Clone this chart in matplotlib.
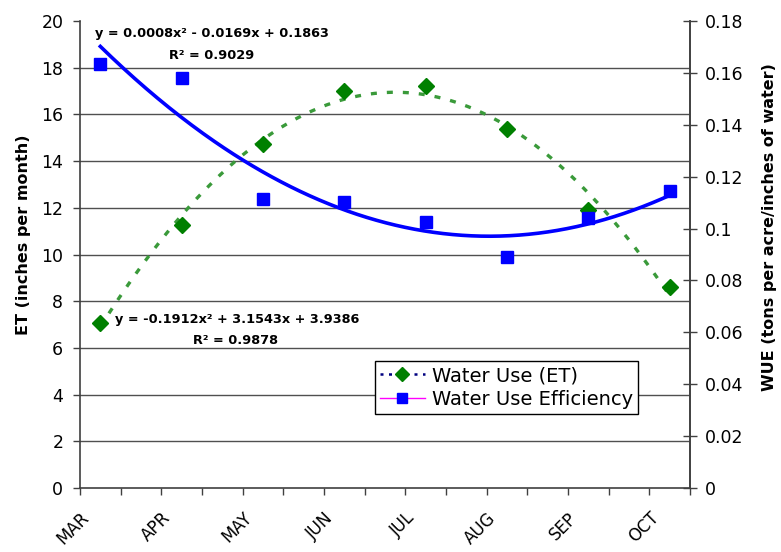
import matplotlib
matplotlib.use('Agg')
import matplotlib.pyplot as plt
import numpy as np
from matplotlib.lines import Line2D
from matplotlib.ticker import FixedLocator

# ---------------- data ----------------
months = ['MAR', 'APR', 'MAY', 'JUN', 'JUL', 'AUG', 'SEP', 'OCT']
et_values = [7.08, 11.26, 14.73, 17.02, 17.22, 15.39, 11.90, 8.62]
wue_values = [0.1633, 0.1580, 0.1113, 0.1104, 0.1024, 0.0889, 0.1040, 0.1146]
et_coef = [-0.1912, 3.1543, 3.9386]     # displayed trendline (ET)
wue_coef = [0.0008, -0.0169, 0.1863]    # displayed trendline (WUE)
et_r2 = 0.9878
wue_r2 = 0.9029
et_ticks = [0, 2, 4, 6, 8, 10, 12, 14, 16, 18, 20]
wue_ticks = [0, 0.02, 0.04, 0.06, 0.08, 0.1, 0.12, 0.14, 0.16, 0.18]

plt.rcParams['font.family'] = ['DejaVu Sans']

# period index of each sample (two half-month periods per month)
x = np.arange(len(months)) * 2 + 1

fig = plt.figure(figsize=(7.81, 5.52), dpi=100)
L, R, T, B = 80, 690, 21, 488
W, H = 781, 552
ax = fig.add_axes([L / W, (H - B) / H, (R - L) / W, (B - T) / H])
ax2 = ax.twinx()

axis_col = '#404040'

# ET series and trendline (left axis)
xs = np.linspace(x[0], x[-1], 300)
ax.plot(xs, np.polyval(et_coef, xs), color='#3a9a3a', lw=2.4,
        dashes=(1.8, 3.0), zorder=2)
ax.plot(x, et_values, linestyle='none', marker='D', ms=8,
        color='#008000', zorder=3)

# WUE series and trendline (right axis)
ax2.plot(x, wue_values, linestyle='none', marker='s', ms=8,
         color='#0000FF', zorder=3)
ax2.plot(xs, np.polyval(wue_coef, xs), color='#0000FF', lw=2.6, zorder=2)

# axes limits / ticks
ax.set_xlim(x[0] - 0.5, x[-1] + 0.5)
ax.set_ylim(et_ticks[0], et_ticks[-1])
ax2.set_ylim(wue_ticks[0], wue_ticks[-1])

label_pos = x - 0.5
ax.xaxis.set_major_locator(FixedLocator(label_pos))
ax.xaxis.set_minor_locator(FixedLocator(x + 0.5))
ax.set_xticklabels(months, rotation=45, ha='right', va='top',
                   rotation_mode='anchor', fontsize=12)
ax.tick_params(axis='x', which='both', direction='out', length=5,
               width=1, color=axis_col, pad=10)

ax.set_yticks(et_ticks)
ax.set_yticklabels([str(v) for v in et_ticks], fontsize=12.5)
ax.tick_params(axis='y', direction='out', length=5, width=1,
               color=axis_col, pad=7)

ax2.set_yticks(wue_ticks)
ax2.set_yticklabels([f'{v:g}' for v in wue_ticks], fontsize=12.5)
ax2.tick_params(axis='y', direction='inout', length=10, width=1,
                color=axis_col, pad=6)

# gridlines
ax.grid(axis='y', color='#505050', lw=1.0)
ax.set_axisbelow(True)
glines = ax.get_ygridlines()
glines[0].set_visible(False)
glines[-1].set_visible(False)

for a in (ax, ax2):
    a.spines['top'].set_visible(False)
    for s in ('left', 'right', 'bottom'):
        a.spines[s].set_color(axis_col)
        a.spines[s].set_linewidth(1.2)
ax2.spines['left'].set_visible(False)
ax2.spines['bottom'].set_visible(False)
ax.patch.set_visible(False)

# axis titles
ax.set_ylabel('ET (inches per month)', fontsize=11.5, fontweight='bold',
              va='center')
ax.yaxis.set_label_coords(-0.092, 0.542)
ax2.set_ylabel('WUE (tons per acre/inches of water)', fontsize=11.5,
               fontweight='bold', rotation=90, va='center')
ax2.yaxis.set_label_coords(1.131, 0.558)

# trendline equations
def eq_text(c):
    s = f'y = {c[0]:.4f}x\u00b2'
    s += f' {"-" if c[1] < 0 else "+"} {abs(c[1]):.4f}x'
    s += f' {"-" if c[2] < 0 else "+"} {abs(c[2]):.4f}'
    return s

ax.text(0.216, 0.974, eq_text(wue_coef), transform=ax.transAxes,
        ha='center', va='center', fontsize=9.3, fontweight='bold', zorder=5)
ax.text(0.216, 0.927, f'R\u00b2 = {wue_r2:.4f}', transform=ax.transAxes,
        ha='center', va='center', fontsize=9.3, fontweight='bold', zorder=5)
ax.text(0.258, 0.360, eq_text(et_coef), transform=ax.transAxes,
        ha='center', va='center', fontsize=9.3, fontweight='bold', zorder=5)
ax.text(0.255, 0.315, f'R\u00b2 = {et_r2:.4f}', transform=ax.transAxes,
        ha='center', va='center', fontsize=9.3, fontweight='bold', zorder=5)

# legend
handles = [
    Line2D([], [], color='#000080', linestyle=(0, (1.2, 2.2)), lw=1.8,
           marker='D', ms=7, mfc='#008000', mec='#008000'),
    Line2D([], [], color='#FF00FF', linestyle='-', lw=1.0,
           marker='s', ms=7, mfc='#0000FF', mec='#0000FF'),
]
leg = ax2.legend(handles, ['Water Use (ET)', 'Water Use Efficiency'],
                 loc='lower left',
                 bbox_to_anchor=(375 / W, (H - 414) / H),
                 bbox_transform=fig.transFigure,
                 fontsize=14, frameon=True, fancybox=False,
                 edgecolor='black', framealpha=1, borderpad=0.25,
                 handlelength=2.3, handletextpad=0.4, labelspacing=0.25,
                 borderaxespad=0)
leg.get_frame().set_linewidth(1.0)
leg.set_zorder(10)

fig.savefig('out.png', dpi=100)
